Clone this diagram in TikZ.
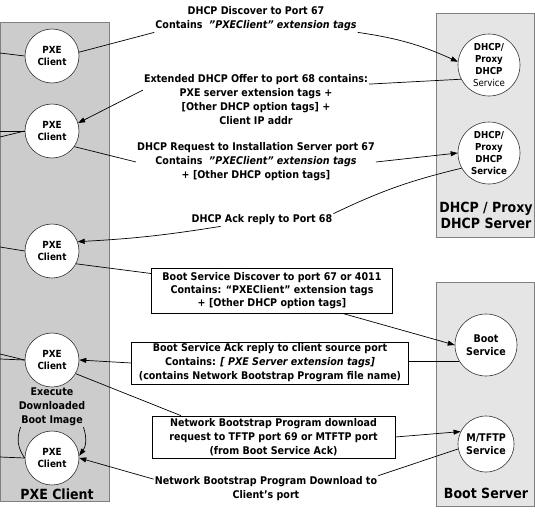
\documentclass[tikz,border=0pt]{standalone}
\usepackage[dvipsnames]{xcolor}
\usepackage{fontspec}
\setmainfont{DejaVu Sans Condensed}
\usetikzlibrary{arrows.meta}

\begin{document}
\begin{tikzpicture}[x=1pt,y=-1pt,
    host/.style={draw=black!50,line width=0.8pt},
    svc/.style={circle,draw=black!80,fill=white,line width=0.6pt,align=center,
      inner sep=0pt,font=\fontsize{9.8}{12.5}\selectfont\bfseries},
    msg/.style={align=center,inner sep=1pt,font=\fontsize{10.6}{14}\selectfont\bfseries},
    msgbox/.style={msg,draw=black,line width=0.7pt},
    title/.style={align=center,font=\fontsize{14}{16}\selectfont\bfseries},
    flow/.style={line width=0.7pt},
    flowto/.style={flow,-{Triangle[length=7pt,width=5pt]}}]

\useasboundingbox (0,0) rectangle (535,522);

\filldraw[host,fill=black!20] (0.5,22) rectangle (109,501);
\filldraw[host,fill=black!10] (436,13) rectangle (534,237);
\filldraw[host,fill=black!10] (436,282) rectangle (534,506);

\node[svc,minimum size=54pt] (c1) at (52,56) {PXE\\Client};
\node[svc,minimum size=54pt] (c2) at (52,131) {PXE\\Client};
\node[svc,minimum size=54pt] (c3) at (52,251) {PXE\\Client};
\node[svc,minimum size=54pt] (c4) at (52,360) {PXE\\Client};
\node[svc,minimum size=54pt] (c5) at (52,458) {PXE\\Client};

\node[svc,minimum size=62pt,font=\fontsize{9.6}{11.7}\selectfont\bfseries] (d1) at (489,65)
  {DHCP/\\Proxy\\DHCP\\\mdseries Service};
\node[svc,minimum size=62pt,font=\fontsize{9.6}{11.7}\selectfont\bfseries] (d2) at (489,153)
  {DHCP/\\Proxy\\DHCP\\Service};
\node[svc,minimum size=62pt,font=\fontsize{10.6}{13.5}\selectfont\bfseries] (s1) at (486,345)
  {Boot\\Service};
\node[svc,minimum size=56pt,font=\fontsize{10.6}{13.5}\selectfont\bfseries] (m) at (486,444)
  {M/TFTP\\Service};

\node[title] at (486,215) {DHCP / Proxy\\DHCP Server};
\node[title] at (486,493) {Boot Server};
\node[title] at (57,494) {PXE Client};
\node[msg] (ex) at (52,407) {Execute\\Downloaded\\Boot Image};

\node[msg] (L1) at (256,19)
  {DHCP Discover to Port 67\\Contains~~\textit{"PXEClient" extension tags}};
\node[msg] (L2) at (256,100)
  {Extended DHCP Offer to port 68 contains:\\PXE server extension tags +\\{[}Other DHCP option tags] +\\Client IP addr};
\node[msg] (L3) at (256,162)
  {DHCP Request to Installation Server port 67\\Contains~~\textit{"PXEClient" extension tags}\\+ [Other DHCP option tags]};
\node[msg] (L4) at (262,220) {DHCP Ack reply to Port 68};
\node[msgbox,minimum width=241pt,minimum height=45pt,font=\fontsize{10.6}{13}\selectfont\bfseries] (B5) at (272,290.5)
  {Boot Service Discover to port 67 or 4011\\Contains: “PXEClient” extension tags\\+ [Other DHCP option tags]};
\node[msgbox,minimum width=277pt,minimum height=42pt] (B6) at (270,363)
  {Boot Service Ack reply to client source port\\Contains: \textit{[ PXE Server extension tags]}\\(contains Network Bootstrap Program file name)};
\node[msgbox,minimum width=243pt,minimum height=42pt] (B7) at (273.5,437)
  {Network Bootstrap Program download\\request to TFTP port 69 or MTFTP port\\(from Boot Service Ack)};
\node[msg] (L8) at (266,489) {Network Bootstrap Program Download to\\Client's port};

\foreach \y/\c in {53/c1,131/c2,137/c2,247/c3,354/c4,359/c4,457/c5}{
  \coordinate (lan) at (0,\y);
  \draw[flow] (lan) -- (\c.west);
}

\draw[flow] (c1.8) -- (L1.south west);
\draw[flowto] (L1.south east) to[bend left=8] (d1.174);
\draw[flow] (d1.207) -- (L2.8);
\draw[flowto] (L2.175) -- (c2.17);
\draw[flow] (c2.-35) -- (L3.west);
\draw[flowto] (L3.east) -- (d2.west);
\draw[flow] (d2.209) to[bend right=6] (L4.north east);
\draw[flowto] ([xshift=30pt]L4.south west) to[bend left=3] (c3.20);
\draw[flow] (c3.-28) -- (B5.172);
\draw[flowto] (B5.-18) -- (s1.west);
\draw[flow] (s1.212) -- (s1.212 -| B6.east);
\draw[flowto] (B6.west) -- (c4.east);
\draw[flow] (c4.-30) -- (B7.167.6);
\draw[flowto] (B7.east) -- (m.154);
\draw[flow] (m.190) -- (L8.north east);
\draw[flowto] (L8.175) -- (c5.east);
\draw[flow] ([xshift=3pt]ex.south west) to[bend right=28] (c5.west);
\draw[flowto] ([xshift=-3pt]ex.south east) to[bend left=28] (c5.5);
\end{tikzpicture}
\end{document}
